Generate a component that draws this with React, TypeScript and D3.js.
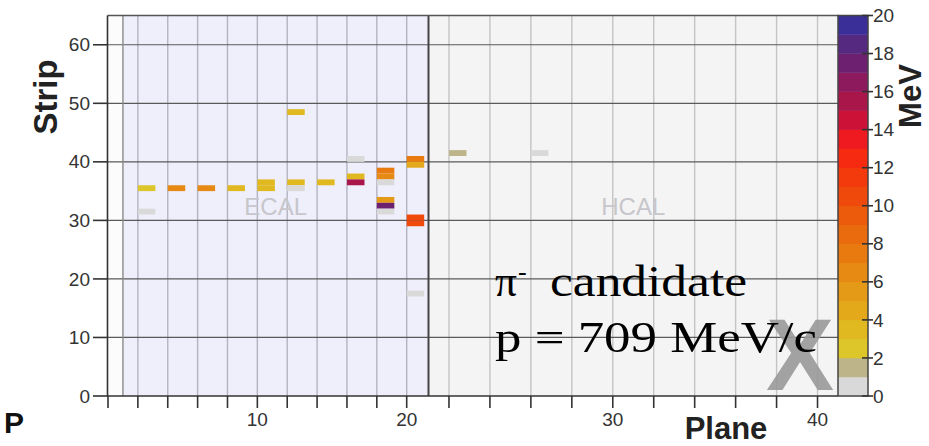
import React, { useRef, useEffect } from 'react';
import * as d3 from 'd3';

// hits in the X view: plane, strip (centre), deposited energy in MeV
const hitPlanes = [2, 2, 4, 6, 8, 10, 10, 12, 12, 12, 14, 16, 16, 16, 18, 18, 18, 18, 18, 18, 20, 20, 20, 20, 20, 22, 26];
const hitStrips = [35.5, 31.5, 35.5, 35.5, 35.5, 35.5, 36.5, 36.5, 35.5, 48.5, 36.5, 40.5, 37.5, 36.5, 38.5, 37.5, 36.5, 33.5, 32.5, 31.5, 40.5, 39.5, 30.5, 29.5, 17.5, 41.5, 41.5];
const hitEnergies = [2.2, 0.5, 6.5, 6.5, 3.3, 3.6, 3.6, 3.4, 0.8, 3.5, 3.2, 0.9, 3.0, 15.5, 7.6, 6.4, 0.6, 5.4, 17.5, 0.5, 7.8, 4.8, 10.6, 10.6, 0.5, 1.6, 0.6];

const regionNames = ['ECAL', 'HCAL'];
const regionStart = [1, 21];
const regionEnd = [21, 41];

const planeTicks = [0, 2, 4, 6, 8, 10, 12, 14, 16, 18, 20, 22, 24, 26, 28, 30, 32, 34, 36, 38, 40];
const planeLabels = [10, 20, 30, 40];
const stripTicks = [0, 10, 20, 30, 40, 50, 60];
const energyTicks = [0, 2, 4, 6, 8, 10, 12, 14, 16, 18, 20];

// one colour per 1 MeV band, 0-1 first
const bandColors = [
  '#d9d9d9', '#bdb48a', '#dcc62a', '#e0b820', '#e3a91b', '#e59a17', '#e78a13', '#e97a10',
  '#ea6a0e', '#ec5a0c', '#ef4a0c', '#f23a0c', '#f62a10', '#ee1a20', '#cc1236', '#a8164a',
  '#8c1a5c', '#6e2070', '#55297f', '#3a2f98'
];

const sans = 'Liberation Sans, Arial, Helvetica, sans-serif';
const serif = 'Liberation Serif, Times New Roman, serif';

const App = () => {
  const svgRef = useRef(null);

  useEffect(() => {
    const width = 929;
    const height = 446;
    const left = 107.5, right = 838, top = 15.5, bottom = 396;
    const barL = 838, barR = 868;

    const x = d3.scaleLinear().domain([0, 20, 21, 41]).range([108, 406.7, 428.5, right]);
    const y = d3.scaleLinear().domain([0, 65]).range([bottom, top]);
    const c = d3.scaleLinear().domain([0, 20]).range([bottom, top]);

    const svg = d3.select(svgRef.current).attr('width', width).attr('height', height);
    svg.selectAll('*').remove();

    svg.append('rect').attr('width', width).attr('height', height).attr('fill', '#ffffff');

    // plot area
    svg.append('rect').attr('x', left).attr('y', top).attr('width', right - left).attr('height', bottom - top).attr('fill', '#fcfcfc');
    svg.append('g').selectAll('rect')
      .data(regionNames)
      .join('rect')
      .attr('x', (d, i) => x(regionStart[i]))
      .attr('y', top)
      .attr('width', (d, i) => x(regionEnd[i]) - x(regionStart[i]))
      .attr('height', bottom - top)
      .attr('fill', (d, i) => i === 0 ? '#efeffb' : '#f4f4f4');

    // grid
    svg.append('g').selectAll('line')
      .data(planeTicks.filter(d => d > 0))
      .join('line')
      .attr('x1', d => x(d)).attr('x2', d => x(d))
      .attr('y1', top).attr('y2', bottom)
      .attr('stroke', d => d > 21 ? '#c4c4c4' : '#b3b3c2')
      .attr('stroke-width', 1.4);
    svg.append('g').selectAll('line')
      .data(stripTicks.filter(d => d > 0))
      .join('line')
      .attr('x1', left).attr('x2', right)
      .attr('y1', d => y(d)).attr('y2', d => y(d))
      .attr('stroke', '#5a5a5a')
      .attr('stroke-width', 1.2);

    // region borders
    svg.append('line').attr('x1', x(1)).attr('x2', x(1)).attr('y1', top).attr('y2', bottom)
      .attr('stroke', '#8a8a8a').attr('stroke-width', 1.4);
    svg.append('line').attr('x1', x(21)).attr('x2', x(21)).attr('y1', top).attr('y2', bottom)
      .attr('stroke', '#444').attr('stroke-width', 2);

    svg.append('g').selectAll('text')
      .data(regionNames)
      .join('text')
      .attr('x', (d, i) => (x(regionStart[i]) + x(regionEnd[i])) / 2)
      .attr('y', 215)
      .attr('text-anchor', 'middle')
      .attr('font-family', sans)
      .attr('font-size', 24)
      .attr('fill', '#c6c6cb')
      .text(d => d);

    // hits
    const hitW = 17.5;
    svg.append('g').selectAll('rect')
      .data(hitPlanes)
      .join('rect')
      .attr('x', (d, i) => x(d))
      .attr('y', (d, i) => y(hitStrips[i] + 0.5))
      .attr('width', hitW)
      .attr('height', (d, i) => y(hitStrips[i] - 0.5) - y(hitStrips[i] + 0.5))
      .attr('fill', (d, i) => bandColors[Math.min(19, Math.floor(hitEnergies[i]))]);

    // frame
    svg.append('line').attr('x1', left).attr('x2', right).attr('y1', top).attr('y2', top)
      .attr('stroke', '#555').attr('stroke-width', 1.5);
    svg.append('line').attr('x1', left).attr('x2', left).attr('y1', top).attr('y2', bottom)
      .attr('stroke', '#333').attr('stroke-width', 1.6);
    svg.append('line').attr('x1', left).attr('x2', right).attr('y1', bottom).attr('y2', bottom)
      .attr('stroke', '#333').attr('stroke-width', 1.6);

    // x axis
    svg.append('g').selectAll('line')
      .data(planeTicks)
      .join('line')
      .attr('x1', d => x(d)).attr('x2', d => x(d))
      .attr('y1', bottom).attr('y2', bottom + 12)
      .attr('stroke', '#333').attr('stroke-width', 1.6);
    svg.append('g').selectAll('text')
      .data(planeLabels)
      .join('text')
      .attr('x', d => x(d))
      .attr('y', 426)
      .attr('text-anchor', 'middle')
      .attr('font-family', sans)
      .attr('font-size', 19)
      .attr('fill', '#333')
      .text(d => d);

    // y axis
    svg.append('g').selectAll('line')
      .data(stripTicks)
      .join('line')
      .attr('x1', 93).attr('x2', left)
      .attr('y1', d => y(d)).attr('y2', d => y(d))
      .attr('stroke', '#333').attr('stroke-width', 1.6);
    svg.append('g').selectAll('text')
      .data(stripTicks)
      .join('text')
      .attr('x', 90)
      .attr('y', d => y(d) + 6.6)
      .attr('text-anchor', 'end')
      .attr('font-family', sans)
      .attr('font-size', 19)
      .attr('fill', '#333')
      .text(d => d);

    // colour bar
    svg.append('g').selectAll('rect')
      .data(bandColors)
      .join('rect')
      .attr('x', barL)
      .attr('y', (d, i) => c(i + 1))
      .attr('width', barR - barL)
      .attr('height', (d, i) => c(i) - c(i + 1) + 0.3)
      .attr('fill', d => d);
    svg.append('rect').attr('x', barL).attr('y', top).attr('width', barR - barL).attr('height', bottom - top)
      .attr('fill', 'none').attr('stroke', '#444').attr('stroke-width', 1.5);
    svg.append('g').selectAll('line')
      .data(energyTicks)
      .join('line')
      .attr('x1', barR - 6).attr('x2', barR + 5)
      .attr('y1', d => c(d)).attr('y2', d => c(d))
      .attr('stroke', '#333').attr('stroke-width', 1.6);
    svg.append('g').selectAll('text')
      .data(energyTicks)
      .join('text')
      .attr('x', 873)
      .attr('y', d => c(d) + 6.6)
      .attr('font-family', sans)
      .attr('font-size', 19)
      .attr('fill', '#333')
      .text(d => d);

    // titles
    svg.append('text')
      .attr('transform', 'translate(57,97) rotate(-90)')
      .attr('text-anchor', 'middle')
      .attr('font-family', sans).attr('font-weight', 'bold').attr('font-size', 33)
      .attr('fill', '#222')
      .text('Strip');
    svg.append('text')
      .attr('transform', 'translate(921,96) rotate(-90)')
      .attr('text-anchor', 'middle')
      .attr('font-family', sans).attr('font-weight', 'bold').attr('font-size', 31)
      .attr('fill', '#222')
      .text('MeV');
    svg.append('text')
      .attr('x', 726).attr('y', 439)
      .attr('text-anchor', 'middle')
      .attr('font-family', sans).attr('font-weight', 'bold').attr('font-size', 31)
      .attr('fill', '#222')
      .text('Plane');
    svg.append('text')
      .attr('x', 4).attr('y', 433)
      .attr('font-family', sans).attr('font-weight', 'bold').attr('font-size', 30)
      .attr('fill', '#111')
      .text('P');

    // view logo
    svg.append('text')
      .attr('x', 800).attr('y', 390)
      .attr('text-anchor', 'middle')
      .attr('font-family', sans).attr('font-weight', 'bold').attr('font-size', 102)
      .attr('fill', '#999').attr('fill-opacity', 0.9)
      .text('X');

    // annotation
    const note = svg.append('g').attr('font-family', serif).attr('fill', '#000');
    note.append('text').attr('x', 495).attr('y', 296).attr('font-size', 44)
      .attr('textLength', 22).attr('lengthAdjust', 'spacingAndGlyphs').text('π');
    note.append('text').attr('x', 518).attr('y', 280).attr('font-size', 26).text('-');
    note.append('text').attr('x', 550).attr('y', 296).attr('font-size', 44)
      .attr('textLength', 197).attr('lengthAdjust', 'spacingAndGlyphs').text('candidate');
    note.append('text').attr('x', 495).attr('y', 352).attr('font-size', 44)
      .attr('textLength', 322).attr('lengthAdjust', 'spacingAndGlyphs').text('p = 709 MeV/c');
  }, []);

  return (
    <div style={{ position: 'absolute', left: 0, top: 0 }}>
      <svg ref={svgRef} style={{ display: 'block' }}></svg>
    </div>
  );
};

export default App;
